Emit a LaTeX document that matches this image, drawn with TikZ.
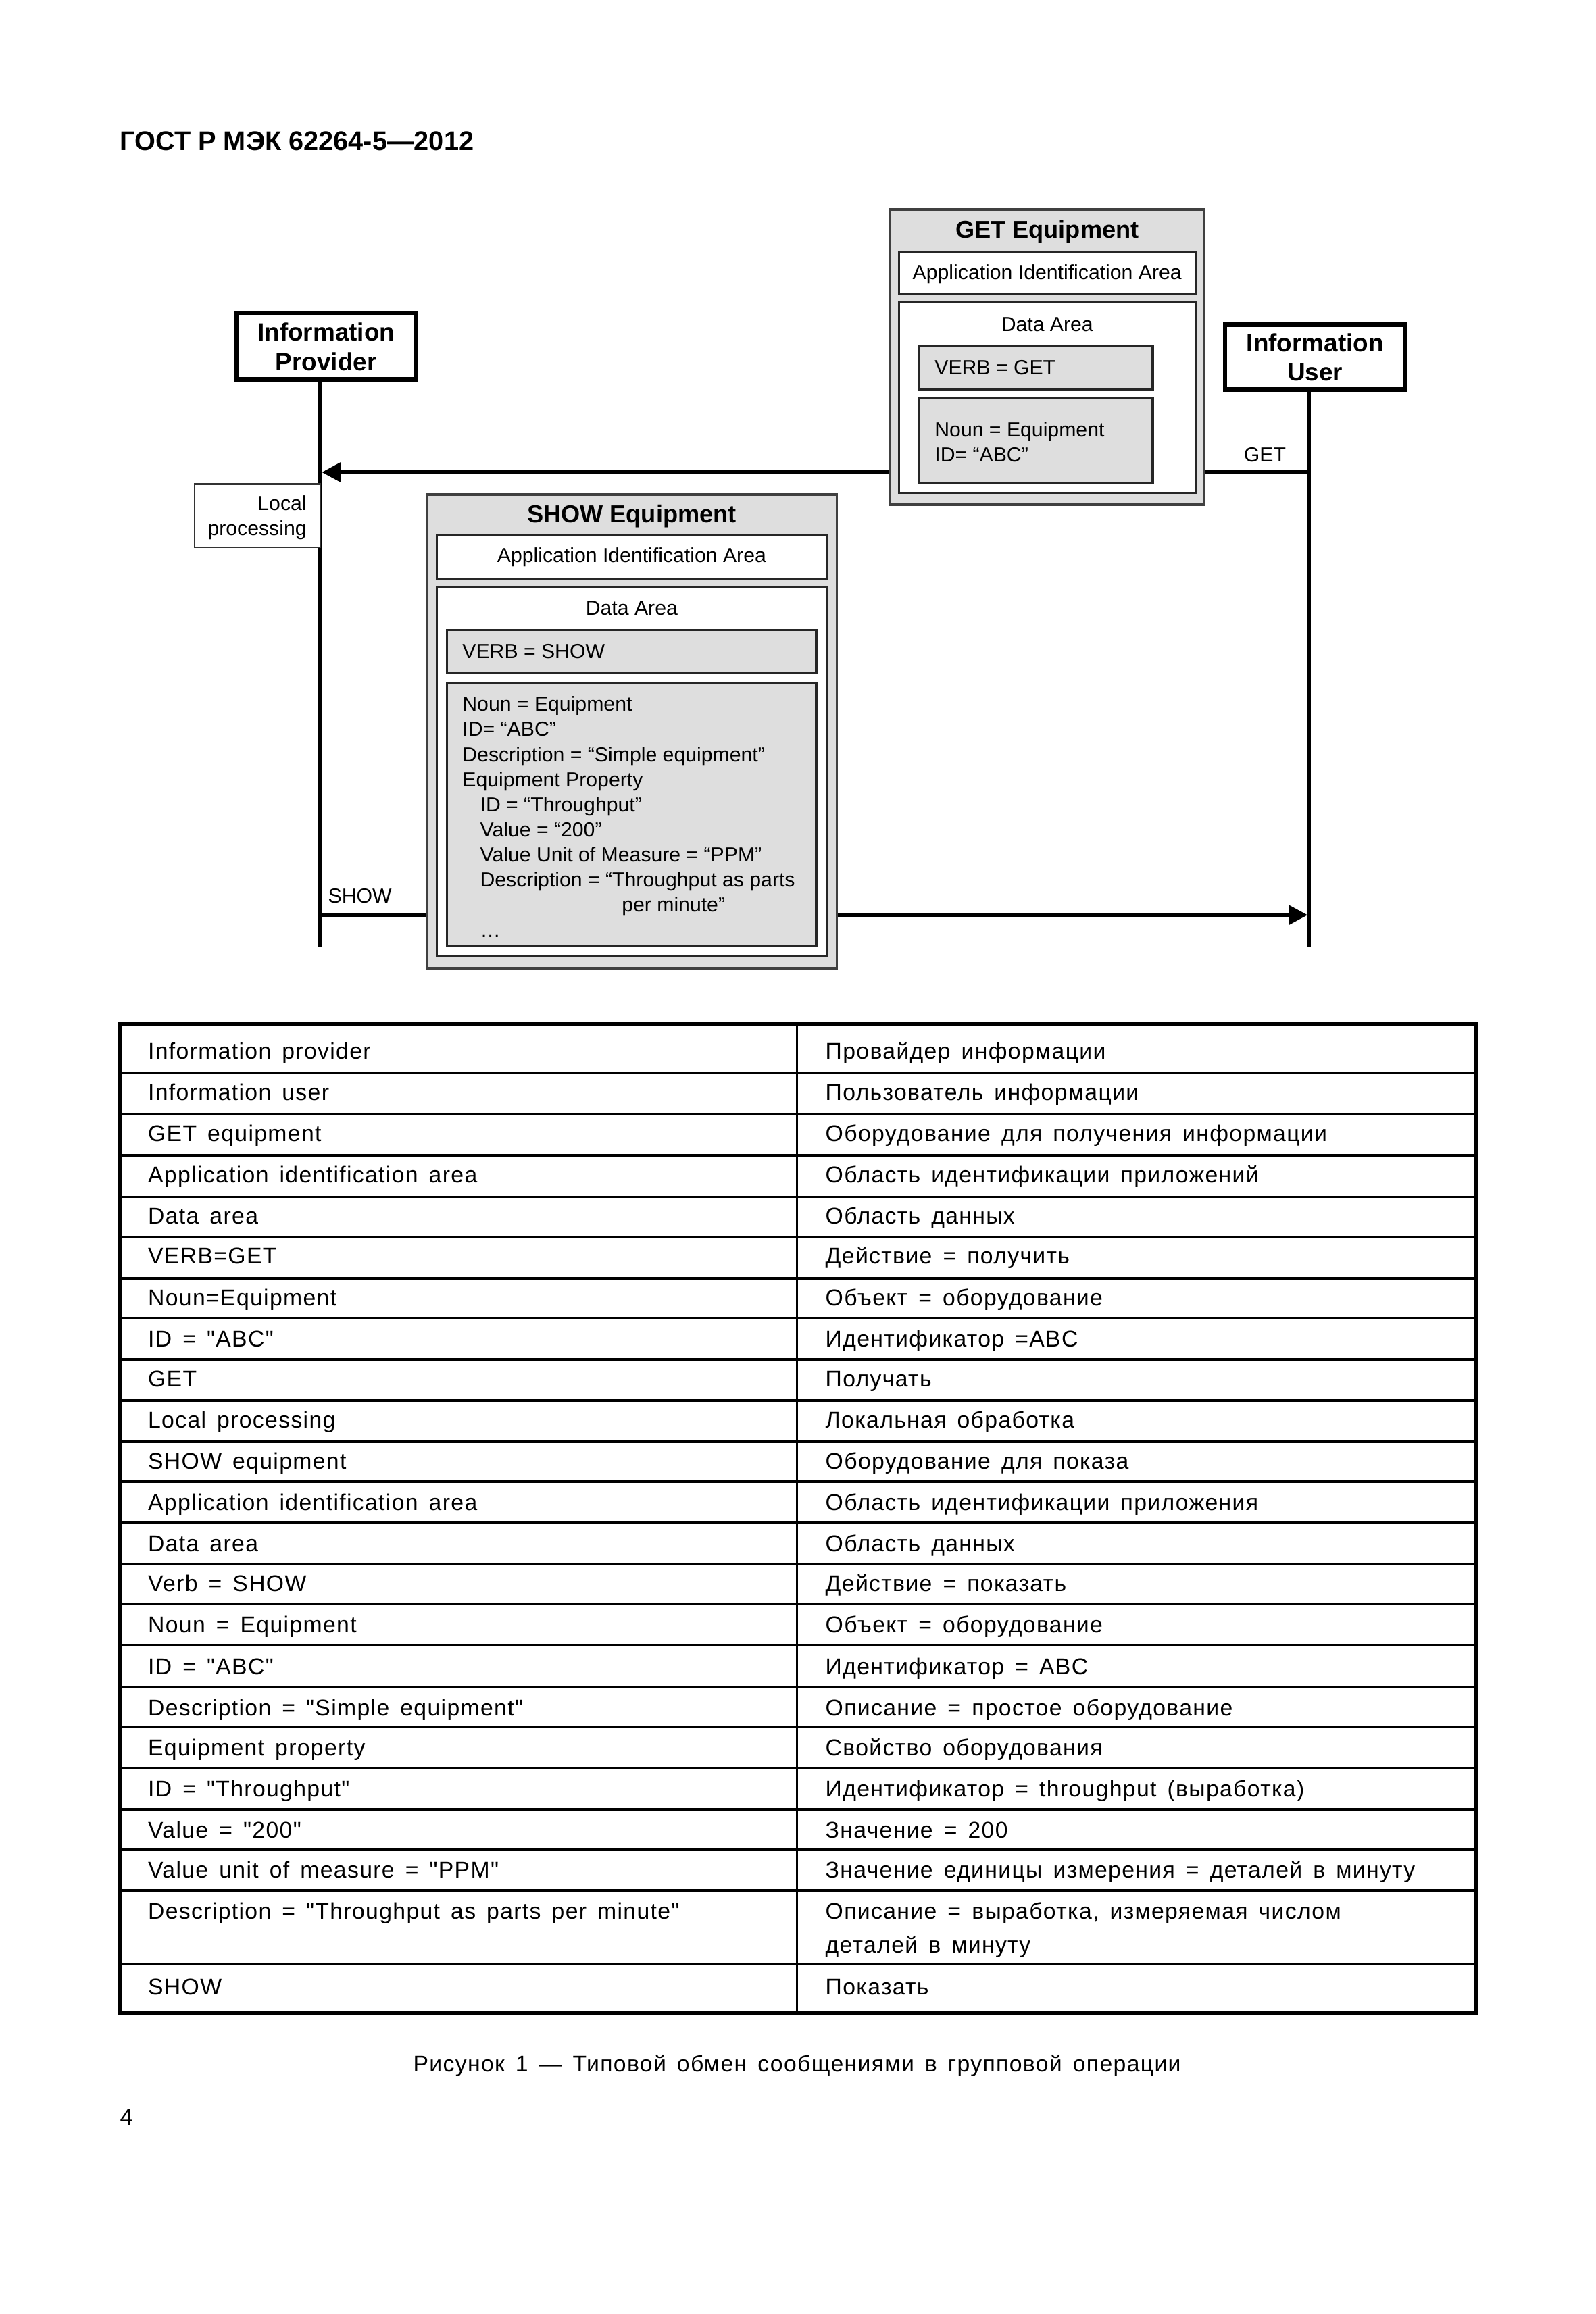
\documentclass[tikz,border=0pt]{standalone}
\usepackage{fontspec}
\setmainfont{Liberation Sans}
\newfontfamily\tabfont[WordSpace=1.5,LetterSpace=4]{Liberation Sans}
\usetikzlibrary{arrows.meta,fit}

\begin{document}
\begin{tikzpicture}[x=0.02185cm,y=-0.02185cm,
  actor/.style={draw=black, line width=1.9pt, fill=white, inner sep=0pt,
    font=\bfseries\fontsize{10.5}{12.4}\selectfont, align=center},
  msgouter/.style={draw=black!75, line width=1pt, fill=black!13, inner sep=0pt},
  whitebox/.style={draw=black!85, line width=0.9pt, fill=white, inner sep=0pt},
  greybox/.style={draw=black!85, line width=0.9pt, fill=black!13, inner sep=0pt},
  localbox/.style={draw=black!80, line width=0.6pt, fill=white, inner sep=0pt},
  dtext/.style={font=\fontsize{8.6}{10.6}\selectfont, inner sep=0pt},
  ttl/.style={font=\bfseries\fontsize{10.3}{12}\selectfont, inner sep=0pt},
  life/.style={line width=1.5pt},
  msg/.style={line width=1.8pt, -{Triangle[length=8pt,width=8pt]}},
  tline/.style={line width=1.1pt},
  touter/.style={line width=1.6pt},
  ttext/.style={font=\tabfont\fontsize{9.6}{14.3}\selectfont, inner sep=0pt, anchor=base west},
]
\useasboundingbox (0,0) rectangle (1081,1568);
\fill[white] (0,0) rectangle (1081,1568);

% header
\node[anchor=base west, inner sep=0pt, font=\bfseries\fontsize{11.3}{13}\selectfont] (hdr) at (81,102) {ГОСТ Р МЭК 62264-5—2012};

% coordinates for lifelines and messages
\coordinate (provend) at (217,642);
\coordinate (userend) at (887,642);
\coordinate (getstart) at (887,320);
\coordinate (getend) at (218,320);
\coordinate (showstart) at (217,620);
\coordinate (showend) at (886,620);

% actors
\node[actor, fit={(160,212) (282,257)}] (prov) {};
\node[font=\bfseries\fontsize{10.5}{12.4}\selectfont, align=center, inner sep=0pt] (provtxt) at (221,235) {Information\\Provider};
\node[actor, fit={(830,220) (952,264)}] (user) {};
\node[font=\bfseries\fontsize{10.5}{12.4}\selectfont, align=center, inner sep=0pt] (usertxt) at (891,242) {Information\\User};

% lifelines
\draw[life] (prov.south -| provend) -- (provend);
\draw[life] (user.south -| userend) -- (userend);

% messages
\draw[msg] (getstart) -- (getend);
\draw[msg] (showstart) -- (showend);
\node[dtext, anchor=base] (getlbl) at (857,313) {GET};
\node[dtext, anchor=base west] (showlbl) at (222,612) {SHOW};

% local processing
\node[localbox, fit={(132,328) (217,371)}] (local) {};
\node[dtext, anchor=base east] (local1) at (208,346) {Local};
\node[dtext, anchor=base east] (local2) at (208,363) {processing};

% GET equipment
\node[msgouter, fit={(603,142) (816,342)}] (getbox) {};
\node[ttl] (gettitle) at (709.5,157) {GET Equipment};
\node[whitebox, fit={(609,171) (810,199)}] (getapp) {};
\node[dtext] (getapptxt) at (709.5,185.5) {Application Identification Area};
\node[whitebox, fit={(609,205) (810,334)}] (getdata) {};
\node[dtext] (getdatatxt) at (709.5,220) {Data Area};
\node[greybox, fit={(623,234) (781,264)}] (getverb) {};
\node[dtext, anchor=base west] (getverbtxt) at (633,254) {VERB = GET};
\node[greybox, fit={(623,270) (781,327)}] (getnoun) {};
\node[dtext, anchor=base west] (getn1) at (633,296) {Noun = Equipment};
\node[dtext, anchor=base west] (getn2) at (633,313) {ID= “ABC”};

% SHOW equipment
\node[msgouter, fit={(289,335) (567,656)}] (showbox) {};
\node[ttl] (showtitle) at (428,350) {SHOW Equipment};
\node[whitebox, fit={(296,363) (560,392)}] (showapp) {};
\node[dtext] (showapptxt) at (428,377.5) {Application Identification Area};
\node[whitebox, fit={(296,398) (560,648)}] (showdata) {};
\node[dtext] (showdatatxt) at (428,412) {Data Area};
\node[greybox, fit={(303,427) (553,456)}] (showverb) {};
\node[dtext, anchor=base west] (showverbtxt) at (313,446) {VERB = SHOW};
\node[greybox, fit={(303,463) (553,641)}] (shownoun) {};
\node[dtext, anchor=base west] (sn1) at (313,482) {Noun = Equipment};
\node[dtext, anchor=base west] (sn2) at (313,499) {ID= “ABC”};
\node[dtext, anchor=base west] (sn3) at (313,516) {Description = “Simple equipment”};
\node[dtext, anchor=base west] (sn4) at (313,533) {Equipment Property};
\node[dtext, anchor=base west] (sn5) at (325,550) {ID = “Throughput”};
\node[dtext, anchor=base west] (sn6) at (325,567) {Value = “200”};
\node[dtext, anchor=base west] (sn7) at (325,584) {Value Unit of Measure = “PPM”};
\node[dtext, anchor=base west] (sn8) at (325,601) {Description = “Throughput as parts};
\node[dtext, anchor=base west] (sn9) at (421,618) {per minute”};
\node[dtext, anchor=base west] (sn10) at (325,635) {…};

% table
\draw[tline] (540,694) -- (540,1364);
\foreach \yy in {727,755,783,811,838,866,893,921,949,977,1004,1032,1060,1087,1115,1143,1170,1198,1226,1253,1281,1331}
  \draw[tline] (81,\yy) -- (1000,\yy);
\draw[touter] (81,694) rectangle (1000,1364);

\foreach \yy/\ltxt/\rtxt [count=\i] in {
  712/{Information provider}/{Провайдер информации},
  740/{Information user}/{Пользователь информации},
  768/{GET equipment}/{Оборудование для получения информации},
  796/{Application identification area}/{Область идентификации приложений},
  824/{Data area}/{Область данных},
  851/{VERB=GET}/{Действие = получить},
  879/{Noun=Equipment}/{Объект = оборудование},
  907/{ID = "ABC"}/{Идентификатор =ABC},
  934/{GET}/{Получать},
  962/{Local processing}/{Локальная обработка},
  990/{SHOW equipment}/{Оборудование для показа},
  1018/{Application identification area}/{Область идентификации приложения},
  1046/{Data area}/{Область данных},
  1073/{Verb = SHOW}/{Действие = показать},
  1101/{Noun = Equipment}/{Объект = оборудование},
  1129/{ID = "ABC"}/{Идентификатор = ABC},
  1157/{Description = "Simple equipment"}/{Описание = простое оборудование},
  1184/{Equipment property}/{Свойство оборудования},
  1212/{ID = "Throughput"}/{Идентификатор = throughput (выработка)},
  1240/{Value = "200"}/{Значение = 200},
  1267/{Value unit of measure = "PPM"}/{Значение единицы измерения = деталей в минуту},
  1295/{Description = "Throughput as parts per minute"}/{Описание = выработка, измеряемая числом},
  1346/{SHOW}/{Показать}
}{
  \node[ttext] (l\i) at (100,\yy+5.5) {\ltxt};
  \node[ttext] (r\i) at (559,\yy+5.5) {\rtxt};
}
\node[ttext] (r22b) at (559,1323.5) {деталей в минуту};

% caption and page number
\node[font=\tabfont\fontsize{9.6}{12}\selectfont, inner sep=0pt, anchor=base] (cap) at (540,1404) {Рисунок 1 — Типовой обмен сообщениями в групповой операции};
\node[font=\tabfont\fontsize{9.6}{12}\selectfont, inner sep=0pt, anchor=base west] (pgnum) at (81,1440) {4};
\end{tikzpicture}
\end{document}
